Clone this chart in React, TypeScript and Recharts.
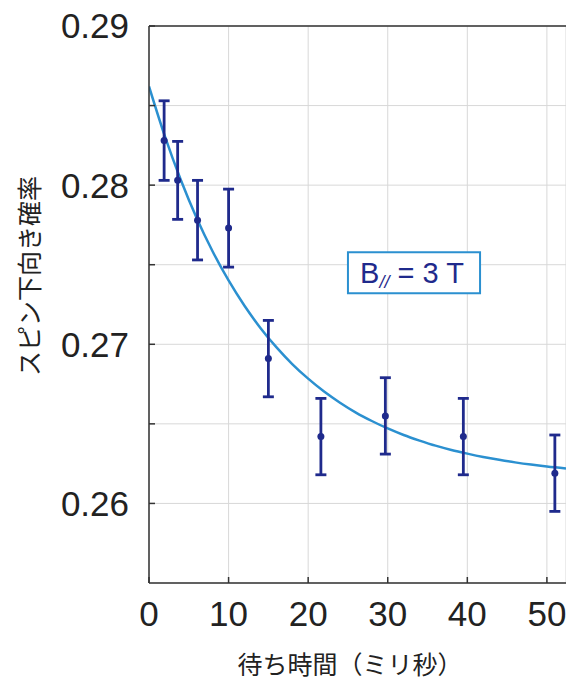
import React from "react";
import {
  ComposedChart,
  Line,
  Scatter,
  ErrorBar,
  XAxis,
  YAxis,
  CartesianGrid,
  ReferenceLine,
  ReferenceArea,
  Label,
} from "recharts";

// Measured data (wait time in ms, spin-down probability, error)
const waitTimes = [1.9, 3.6, 6.1, 10.0, 15.0, 21.6, 29.7, 39.5, 51.0];
const spinDownProb = [0.2828, 0.2803, 0.2778, 0.2773, 0.2691, 0.2642, 0.2655, 0.2642, 0.2619];
const errors = [0.0025, 0.00245, 0.0025, 0.00245, 0.0024, 0.0024, 0.0024, 0.0024, 0.0024];

// Fitted curve
const fitTimes = [0, 2, 4, 6, 8, 10, 12, 14, 16, 18, 20, 22, 24, 26, 28, 30, 32, 34, 36, 38, 40, 42, 44, 46, 48, 50, 52.4];
const fitValues = [
  0.2862, 0.28306, 0.28032, 0.27792, 0.27583, 0.27401, 0.27242, 0.27103, 0.26982,
  0.26876, 0.26784, 0.26703, 0.26633, 0.26571, 0.26518, 0.26471, 0.2643, 0.26395,
  0.26363, 0.26336, 0.26313, 0.26292, 0.26274, 0.26258, 0.26244, 0.26232, 0.2622,
];

const xTicks = [0, 10, 20, 30, 40, 50];
const yTicks = [0.26, 0.265, 0.27, 0.275, 0.28, 0.285, 0.29];
const xDomain = [0, 52.4];
const yDomain = [0.255, 0.29];

const xLabel = "待ち時間（ミリ秒）";
const yLabel = "スピン下向き確率";

// annotation box extents in data units
const boxX = [25, 41.6];
const boxY = [0.27321, 0.27579];

const points = waitTimes.map((t, i) => ({ t, p: spinDownProb[i], err: errors[i] }));
const fit = fitTimes.map((t, i) => ({ t, p: fitValues[i] }));

const NAVY = "#1f2a8c";
const CURVE = "#2b90d0";
const AXIS = "#333333";
const LATIN = "'Liberation Sans', Arial, sans-serif";
const CJK = "'Noto Sans CJK JP', 'Noto Sans', sans-serif";

export default function App() {
  return (
    <div style={{ position: "absolute", left: 0, top: 0, background: "#fff" }}>
      <ComposedChart
        width={566}
        height={682}
        margin={{ top: 26, right: 0, bottom: 0, left: 0 }}
      >
        <CartesianGrid stroke="#d8d8d8" strokeWidth={1} />
        <XAxis
          type="number"
          dataKey="t"
          domain={xDomain}
          ticks={xTicks}
          allowDataOverflow
          height={99}
          axisLine={{ stroke: AXIS, strokeWidth: 1.5 }}
          tickLine={{ stroke: AXIS, strokeWidth: 1.5 }}
          tickSize={-6}
          tickMargin={24}
          tick={{ fontSize: 35, fill: "#222", fontFamily: LATIN }}
        >
          <Label
            content={(props: any) => {
              const vb = props.viewBox;
              return (
                <text
                  x={vb.x + vb.width / 2 - 7.5}
                  y={vb.y + 80}
                  textAnchor="middle"
                  dominantBaseline="central"
                  fontSize={25}
                  fill="#222"
                  fontFamily={CJK}
                >
                  {xLabel}
                </text>
              );
            }}
          />
        </XAxis>
        <YAxis
          type="number"
          domain={yDomain}
          ticks={yTicks}
          allowDataOverflow
          width={149}
          axisLine={{ stroke: AXIS, strokeWidth: 1.5 }}
          tickLine={{ stroke: AXIS, strokeWidth: 1.5 }}
          tickSize={-6}
          tickMargin={26}
          tick={{ fontSize: 35, fill: "#222", fontFamily: LATIN }}
          tickFormatter={(v: number) =>
            Math.abs(v * 100 - Math.round(v * 100)) < 1e-6 ? v.toFixed(2) : ""
          }
        >
          <Label
            content={(props: any) => {
              const vb = props.viewBox;
              const cx = vb.x + 28;
              const cy = vb.y + vb.height / 2 - 28.5;
              return (
                <text
                  x={cx}
                  y={cy}
                  textAnchor="middle"
                  dominantBaseline="central"
                  fontSize={25}
                  fill="#222"
                  fontFamily={CJK}
                  transform={`rotate(-90, ${cx}, ${cy})`}
                >
                  {yLabel}
                </text>
              );
            }}
          />
        </YAxis>
        <ReferenceLine y={yDomain[1]} stroke={AXIS} strokeWidth={1.5} />
        <ReferenceArea
          x1={boxX[0]}
          x2={boxX[1]}
          y1={boxY[0]}
          y2={boxY[1]}
          fill="#ffffff"
          fillOpacity={1}
          stroke={CURVE}
          strokeWidth={2}
          label={(props: any) => {
            const vb = props.viewBox;
            const cx = vb.x + vb.width / 2 - 2;
            const cy = vb.y + vb.height / 2;
            return (
              <text
                x={cx}
                y={cy}
                textAnchor="middle"
                dominantBaseline="central"
                fontSize={29}
                fill={NAVY}
                fontFamily={LATIN}
              >
                <tspan>B</tspan>
                <tspan fontSize={18} fontStyle="italic" dy={9}>//</tspan>
                <tspan dy={-9}> = 3 T</tspan>
              </text>
            );
          }}
        />
        <Line
          data={fit}
          dataKey="p"
          type="monotone"
          stroke={CURVE}
          strokeWidth={2.5}
          dot={false}
          activeDot={false}
          isAnimationActive={false}
        />
        <Scatter
          data={points}
          dataKey="p"
          fill={NAVY}
          isAnimationActive={false}
          shape={(props: any) => <circle cx={props.cx} cy={props.cy} r={3.5} fill={NAVY} />}
        >
          <ErrorBar
            dataKey="err"
            direction="y"
            width={5.5}
            stroke={NAVY}
            strokeWidth={2.8}
            isAnimationActive={false}
          />
        </Scatter>
      </ComposedChart>
    </div>
  );
}
